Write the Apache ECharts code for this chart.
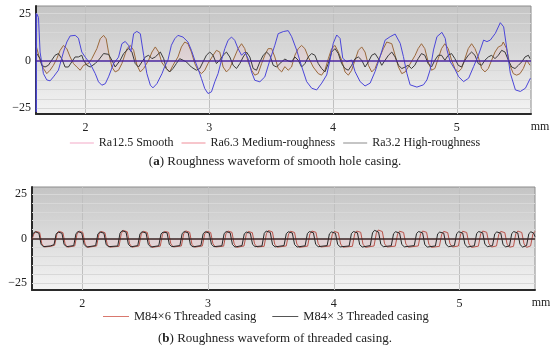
<!DOCTYPE html>
<html><head><meta charset="utf-8">
<script src="https://cdn.jsdelivr.net/npm/echarts@6/dist/echarts.min.js"></script>
<style>html,body{margin:0;padding:0;background:#fff}#c{width:550px;height:348px}</style>
</head><body><div id="c"></div>
<script>
// ---------- data (x in mm, y in um) ----------
const xTicks = [2, 3, 4, 5];
const yTicks = [-25, 0, 25];
const namesTop = ['Ra12.5 Smooth', 'Ra6.3 Medium-roughness', 'Ra3.2 High-roughness'];
const namesBottom = ['M84×6 Threaded casing', 'M84× 3 Threaded casing'];

const ra125 = [[1.600,25],[1.602,-27],[1.605,25],[1.620,23],[1.633,4.7],[1.660,-6.7],[1.687,-10.0],[1.714,-10.5],[1.741,-8.4],[1.781,-4.9],[1.822,4.7],[1.849,10.0],[1.876,13.2],[1.917,13.5],[1.943,12.0],[1.970,4.7],[1.998,2.0],[2.038,-1.4],[2.079,-6.7],[2.105,-11.0],[2.132,-12.8],[2.160,-12.0],[2.186,-8.4],[2.227,-1.4],[2.267,2.0],[2.294,9.1],[2.321,10.3],[2.348,8.2],[2.367,5.0],[2.389,14.4],[2.415,15.6],[2.443,14.4],[2.470,3.0],[2.496,-6.7],[2.524,-12.8],[2.545,-14.2],[2.577,-12.0],[2.618,-6.7],[2.640,-3.0],[2.666,0.4],[2.694,8.3],[2.721,11.7],[2.747,13.5],[2.788,12.6],[2.828,10.0],[2.856,5.6],[2.883,0.4],[2.909,-4.0],[2.937,-9.3],[2.964,-14.6],[2.990,-17.2],[3.018,-16.3],[3.045,-11.0],[3.071,-6.7],[3.099,0.4],[3.126,6.5],[3.152,10.9],[3.180,12.6],[3.206,10.9],[3.233,6.5],[3.261,3.0],[3.287,4.7],[3.314,1.2],[3.342,-5.8],[3.368,-10.2],[3.409,-11.0],[3.449,-8.4],[3.490,0.4],[3.530,8.3],[3.557,14.4],[3.598,15.5],[3.638,16.0],[3.666,12.8],[3.706,5.8],[3.747,-3.0],[3.787,-10.9],[3.828,-14.4],[3.868,-15.3],[3.909,-11.7],[3.949,-7.4],[3.976,0.5],[4.002,9.3],[4.030,13.7],[4.057,11.9],[4.079,1.4],[4.111,-0.4],[4.151,0.5],[4.178,-5.6],[4.219,-10.9],[4.259,-13.2],[4.300,-11.7],[4.340,-5.6],[4.381,2.3],[4.421,11.0],[4.462,12.8],[4.502,14.2],[4.543,9.3],[4.569,2.3],[4.597,-6.5],[4.623,-12.6],[4.678,-13.8],[4.731,-12.6],[4.759,-10.0],[4.785,-4.7],[4.812,5.8],[4.840,12.8],[4.880,15.1],[4.907,11.9],[4.921,5.8],[4.947,-0.4],[4.988,-4.7],[5.015,-8.3],[5.055,-10.9],[5.096,-9.1],[5.136,-3.0],[5.176,3.2],[5.217,11.0],[5.244,10.2],[5.271,11.0],[5.312,14.6],[5.352,20.2],[5.379,18.0],[5.406,5.8],[5.433,-6.5],[5.474,-15.3],[5.514,-16.1],[5.555,-14.4],[5.595,-9.1]];

const ra63 = [[1.601,8.0],[1.633,0.4],[1.660,-4.0],[1.687,-6.7],[1.714,-4.9],[1.741,-2.3],[1.768,1.2],[1.795,5.6],[1.822,8.2],[1.849,6.5],[1.876,2.1],[1.903,-1.4],[1.930,-3.2],[1.957,-4.9],[1.984,-2.3],[2.024,-1.4],[2.051,1.2],[2.092,6.5],[2.119,11.7],[2.146,13.5],[2.167,11.7],[2.186,4.7],[2.213,-3.2],[2.240,-5.8],[2.267,-4.9],[2.294,-1.4],[2.335,6.5],[2.362,8.2],[2.389,5.6],[2.416,-2.3],[2.443,-5.8],[2.470,-4.0],[2.510,0.4],[2.537,4.7],[2.564,7.4],[2.591,4.7],[2.618,-1.0],[2.653,-4.0],[2.680,-5.8],[2.707,-2.3],[2.747,2.1],[2.775,7.4],[2.802,10.0],[2.828,9.1],[2.856,4.7],[2.883,-1.4],[2.909,-4.9],[2.937,-6.7],[2.964,-4.9],[2.990,-1.4],[3.031,3.0],[3.058,5.6],[3.085,4.7],[3.112,-3.2],[3.139,-5.8],[3.166,-4.0],[3.193,0.4],[3.233,6.5],[3.261,9.1],[3.287,6.5],[3.314,-0.5],[3.342,-4.9],[3.368,-7.5],[3.395,-6.7],[3.423,-1.4],[3.449,3.0],[3.476,6.5],[3.504,6.5],[3.530,2.1],[3.557,-4.0],[3.585,-5.8],[3.611,-3.0],[3.638,-4.9],[3.665,-3.2],[3.692,3.0],[3.719,6.5],[3.746,8.2],[3.773,6.5],[3.800,2.1],[3.840,-3.2],[3.881,-6.7],[3.908,-7.5],[3.935,-4.9],[3.962,1.2],[3.989,6.5],[4.016,8.2],[4.043,4.7],[4.070,0.4],[4.097,-5.8],[4.124,-7.5],[4.151,-4.9],[4.178,0.4],[4.205,5.6],[4.232,7.4],[4.259,4.7],[4.286,-2.3],[4.313,-5.8],[4.340,-4.0],[4.367,0.4],[4.407,6.5],[4.434,10.0],[4.475,9.1],[4.502,3.0],[4.529,-3.2],[4.556,-6.7],[4.583,-5.8],[4.610,-3.0],[4.637,0.0],[4.664,3.0],[4.688,6.5],[4.715,9.1],[4.742,6.5],[4.769,-0.5],[4.796,-4.9],[4.823,-4.0],[4.850,1.2],[4.877,6.5],[4.904,9.1],[4.931,6.5],[4.958,0.4],[4.985,-4.0],[5.012,-5.8],[5.039,-4.0],[5.066,1.2],[5.093,6.5],[5.120,9.1],[5.147,6.5],[5.174,2.1],[5.201,-4.0],[5.228,-5.8],[5.255,-4.0],[5.282,0.4],[5.309,4.7],[5.336,7.4],[5.363,8.2],[5.376,10.0],[5.403,6.5],[5.430,-2.3],[5.457,-6.7],[5.484,-7.5],[5.511,-6.7],[5.538,-4.0],[5.565,0.4],[5.592,-2.3]];

const ra32 = [[1.606,3.9],[1.633,1.2],[1.646,-2.3],[1.673,-3.2],[1.700,-2.3],[1.727,0.4],[1.754,3.0],[1.781,3.9],[1.808,1.2],[1.835,-3.2],[1.862,-3.2],[1.889,-0.5],[1.916,2.1],[1.943,2.1],[1.970,3.0],[1.984,0.4],[2.011,-2.3],[2.038,-3.2],[2.078,-1.4],[2.105,0.4],[2.146,3.9],[2.186,3.5],[2.213,0.4],[2.240,-3.2],[2.281,0.4],[2.308,3.9],[2.348,6.5],[2.375,4.7],[2.402,-1.4],[2.429,-3.2],[2.456,-0.5],[2.483,2.1],[2.510,3.0],[2.537,1.2],[2.564,2.1],[2.605,4.7],[2.632,1.2],[2.653,-4.0],[2.680,-5.8],[2.707,-4.0],[2.734,-1.4],[2.761,1.2],[2.788,0.4],[2.815,-0.5],[2.855,-3.2],[2.896,-4.9],[2.923,-4.0],[2.950,-0.5],[2.977,3.0],[3.004,4.7],[3.031,3.0],[3.058,-1.4],[3.085,0.4],[3.112,3.0],[3.139,4.7],[3.166,2.1],[3.193,-2.3],[3.220,-4.0],[3.247,-1.4],[3.274,2.1],[3.301,4.7],[3.328,2.1],[3.355,-4.0],[3.382,-4.9],[3.409,-0.5],[3.436,3.0],[3.463,4.7],[3.490,3.0],[3.517,-2.3],[3.544,-3.2],[3.584,-0.5],[3.611,1.0],[3.638,0.0],[3.665,-0.5],[3.692,2.1],[3.719,0.4],[3.746,-3.2],[3.773,-1.4],[3.800,2.1],[3.827,3.9],[3.854,3.0],[3.881,-1.4],[3.908,-4.0],[3.935,-5.8],[3.962,-1.4],[3.989,4.7],[4.016,6.5],[4.043,3.9],[4.070,-1.4],[4.097,-4.0],[4.124,-4.9],[4.151,-2.3],[4.178,1.2],[4.205,2.1],[4.232,0.4],[4.259,-3.2],[4.286,-0.5],[4.313,3.0],[4.340,3.9],[4.367,1.2],[4.394,-2.3],[4.421,0.4],[4.448,3.0],[4.475,4.7],[4.502,2.1],[4.529,-2.3],[4.556,-4.0],[4.583,-3.2],[4.607,-2.3],[4.634,-4.0],[4.661,-2.3],[4.688,1.2],[4.715,3.9],[4.742,3.0],[4.769,-1.4],[4.796,-3.2],[4.823,0.4],[4.850,3.0],[4.877,3.0],[4.904,0.4],[4.931,3.0],[4.958,3.9],[4.985,1.2],[5.012,-2.3],[5.039,-3.2],[5.066,0.4],[5.093,3.0],[5.120,4.7],[5.147,3.0],[5.174,-1.4],[5.201,-2.3],[5.228,0.4],[5.255,2.1],[5.282,3.0],[5.309,1.2],[5.336,3.0],[5.363,5.6],[5.390,4.7],[5.417,0.4],[5.444,-3.2],[5.471,-4.0],[5.498,-2.3],[5.525,-0.5],[5.552,2.1],[5.579,3.0],[5.592,1.2]];

const m84x6 = [[1.600,-0.5],[1.614,2.4],[1.631,4.0],[1.661,3.4],[1.678,-3.0],[1.698,-4.8],[1.750,-4.4],[1.780,-3.8],[1.798,2.4],[1.814,4.1],[1.846,3.3],[1.863,-3.0],[1.883,-4.9],[1.940,-4.2],[1.958,2.5],[1.974,4.2],[2.004,3.4],[2.022,-3.1],[2.042,-5.0],[2.114,-4.2],[2.132,2.4],[2.148,4.0],[2.180,3.3],[2.198,-3.2],[2.218,-4.9],[2.292,-4.4],[2.310,2.8],[2.326,4.6],[2.358,3.8],[2.376,-3.0],[2.396,-4.9],[2.451,-4.2],[2.469,2.5],[2.485,4.1],[2.517,3.4],[2.535,-3.1],[2.555,-5.0],[2.620,-4.3],[2.638,2.4],[2.654,4.0],[2.686,3.5],[2.704,-3.0],[2.724,-4.8],[2.788,-4.2],[2.806,2.6],[2.822,4.3],[2.854,3.5],[2.872,-3.3],[2.892,-4.9],[2.955,-4.2],[2.973,2.5],[2.989,4.1],[3.021,3.4],[3.039,-3.0],[3.059,-4.8],[3.124,-4.3],[3.142,2.6],[3.158,4.2],[3.190,3.5],[3.208,-3.1],[3.228,-5.0],[3.286,-4.2],[3.304,2.4],[3.320,4.0],[3.352,3.3],[3.370,-3.0],[3.390,-4.8],[3.446,-4.4],[3.464,2.7],[3.480,4.5],[3.512,3.7],[3.530,-3.2],[3.550,-4.9],[3.622,-4.2],[3.640,2.5],[3.656,4.1],[3.688,3.4],[3.706,-3.1],[3.726,-5.0],[3.792,-4.3],[3.810,2.6],[3.826,4.2],[3.858,3.5],[3.876,-3.0],[3.896,-4.8],[3.970,-4.2],[3.988,2.4],[4.004,4.0],[4.036,3.3],[4.054,-3.1],[4.074,-4.9],[4.148,-4.4],[4.166,2.6],[4.182,4.2],[4.214,3.5],[4.232,-3.2],[4.252,-5.0],[4.320,-4.2],[4.338,3.0],[4.354,4.8],[4.386,3.9],[4.404,-3.0],[4.424,-4.8],[4.489,-4.3],[4.507,2.5],[4.523,4.1],[4.555,3.4],[4.573,-3.1],[4.593,-4.9],[4.672,-4.2],[4.690,2.6],[4.706,4.2],[4.738,3.5],[4.756,-3.2],[4.776,-5.0],[4.840,-4.4],[4.858,2.4],[4.874,4.0],[4.906,3.3],[4.924,-3.0],[4.944,-4.8],[4.991,-4.2],[5.009,2.5],[5.025,4.1],[5.057,3.4],[5.075,-3.1],[5.095,-5.0],[5.150,-4.3],[5.168,2.6],[5.184,4.2],[5.216,3.5],[5.234,-3.0],[5.254,-4.8],[5.294,-4.2],[5.312,2.4],[5.328,4.0],[5.360,3.3],[5.378,-3.2],[5.398,-4.9],[5.429,-4.4],[5.447,2.6],[5.463,4.2],[5.495,3.4],[5.513,-3.1],[5.533,-5.0],[5.565,-4.2],[5.583,2.5],[5.600,4.0]];

const m84x3 = [[1.600,0.5],[1.608,2.8],[1.625,3.8],[1.655,3.0],[1.672,-3.2],[1.690,-4.6],[1.745,-4.2],[1.775,-3.5],[1.792,2.6],[1.808,3.6],[1.838,3.0],[1.855,-3.4],[1.875,-4.6],[1.932,-4.0],[1.950,2.8],[1.966,3.9],[1.996,3.1],[2.014,-3.3],[2.034,-4.8],[2.106,-4.0],[2.124,2.6],[2.140,3.7],[2.172,3.0],[2.190,-3.5],[2.210,-4.6],[2.282,-4.2],[2.300,3.0],[2.316,4.4],[2.348,3.6],[2.366,-3.2],[2.386,-4.7],[2.441,-4.0],[2.459,2.7],[2.475,3.8],[2.507,3.1],[2.525,-3.4],[2.545,-4.8],[2.608,-4.1],[2.626,2.6],[2.642,3.6],[2.674,3.2],[2.692,-3.3],[2.712,-4.6],[2.776,-4.0],[2.794,2.8],[2.810,3.9],[2.842,3.2],[2.860,-3.6],[2.880,-4.7],[2.943,-4.0],[2.961,2.7],[2.977,3.8],[3.009,3.1],[3.027,-3.3],[3.047,-4.6],[3.110,-4.1],[3.128,2.8],[3.144,3.9],[3.176,3.2],[3.194,-3.4],[3.214,-4.8],[3.270,-4.0],[3.288,2.6],[3.304,3.6],[3.336,3.0],[3.354,-3.3],[3.374,-4.6],[3.429,-4.2],[3.447,2.9],[3.463,4.2],[3.495,3.4],[3.513,-3.5],[3.533,-4.7],[3.604,-4.0],[3.622,2.7],[3.638,3.8],[3.670,3.1],[3.688,-3.4],[3.708,-4.8],[3.772,-4.1],[3.790,2.8],[3.806,3.9],[3.838,3.2],[3.856,-3.3],[3.876,-4.6],[3.947,-4.0],[3.965,2.6],[3.981,3.7],[4.013,3.0],[4.031,-3.4],[4.051,-4.7],[4.122,-4.2],[4.140,2.8],[4.156,3.9],[4.188,3.2],[4.206,-3.5],[4.226,-4.8],[4.290,-4.0],[4.308,3.2],[4.324,4.6],[4.356,3.6],[4.374,-3.3],[4.394,-4.6],[4.457,-4.1],[4.475,2.7],[4.491,3.8],[4.523,3.1],[4.541,-3.4],[4.561,-4.7],[4.640,-4.0],[4.658,2.8],[4.674,3.9],[4.706,3.2],[4.724,-3.5],[4.744,-4.8],[4.808,-4.2],[4.826,2.6],[4.842,3.6],[4.874,3.0],[4.892,-3.3],[4.912,-4.6],[4.959,-4.0],[4.977,2.7],[4.993,3.8],[5.025,3.1],[5.043,-3.4],[5.063,-4.8],[5.118,-4.1],[5.136,2.8],[5.152,3.9],[5.184,3.2],[5.202,-3.3],[5.222,-4.6],[5.262,-4.0],[5.280,2.6],[5.296,3.7],[5.328,3.0],[5.346,-3.5],[5.366,-4.7],[5.397,-4.2],[5.415,2.8],[5.431,3.9],[5.463,3.1],[5.481,-3.4],[5.501,-4.8],[5.533,-4.0],[5.551,2.7],[5.567,3.8],[5.590,3.0],[5.600,1.0]];

const stripes = [-25,-20,-15,-10,-5,5,10,15,20,25];

// ---------- chart ----------
const F = 'Liberation Serif';
const chart = echarts.init(document.getElementById('c'), null, {renderer: 'canvas'});
const bg = () => new echarts.graphic.LinearGradient(0, 0, 0, 1, [
  {offset: 0, color: '#c4c4c4'}, {offset: 1, color: '#f4f4f4'}]);
const minus = v => String(v).replace('-', '\u2212');

function xAxis(gi) {
  return {gridIndex: gi, type: 'value', min: 1.6, max: 5.6,
    axisLine: {onZero: false, lineStyle: {color: '#2a2a2a', width: 2}},
    axisTick: {show: false}, splitLine: {show: false},
    axisLabel: {customValues: xTicks, fontFamily: F, fontSize: 12, color: '#222', margin: 8}};
}
function yAxis(gi, mn, mx) {
  return {gridIndex: gi, type: 'value', min: mn, max: mx,
    axisLine: {show: true, onZero: false, lineStyle: {color: '#2a2a2a', width: 2}},
    axisTick: {show: false}, splitLine: {show: false},
    axisLabel: {customValues: yTicks, formatter: minus, fontFamily: F, fontSize: 12, color: '#222', margin: 5},
    name: 'um', nameLocation: 'middle', nameGap: 22,
    nameTextStyle: {fontFamily: F, fontSize: 13, color: '#222'}};
}
function gridMarks() {
  return {silent: true, symbol: ['none', 'none'], label: {show: false}, animation: false, z: 1,
    data: xTicks.map(v => ({xAxis: v, lineStyle: {color: '#c0c0c0', width: 1, type: 'solid'}}))
      .concat(stripes.map(v => ({yAxis: v, lineStyle: {color: '#d8d8d8', width: 1, type: 'solid'}})))};
}
function zeroMark(color) {
  return {silent: true, symbol: ['none', 'none'], label: {show: false}, animation: false,
    data: [{yAxis: 0, lineStyle: {color: color, width: 1.6, type: 'solid'}}]};
}
const line = (name, data, gi, color, extra) => Object.assign({
  name, type: 'line', data, xAxisIndex: gi, yAxisIndex: gi, showSymbol: false, symbol: 'none',
  lineStyle: {color, width: 1}, itemStyle: {color}, animation: false}, extra || {});
const legItem = (name, color) => ({name, icon: 'rect', itemStyle: {color}});

chart.setOption({
  animation: false,
  grid: [
    {left: 36, top: 6, width: 495, height: 108, show: true, backgroundColor: bg(), borderColor: '#8c8c8c', borderWidth: 1, outerBoundsMode: 'none', containLabel: false},
    {left: 32, top: 187, width: 503, height: 103, show: true, backgroundColor: bg(), borderColor: '#8c8c8c', borderWidth: 1, outerBoundsMode: 'none', containLabel: false}
  ],
  xAxis: [xAxis(0), xAxis(1)],
  yAxis: [yAxis(0, -28, 29), yAxis(1, -29, 29)],
  legend: [
    {left: 'center', top: 132, itemGap: 8, itemWidth: 24, itemHeight: 1,
     textStyle: {fontFamily: F, fontSize: 12, color: '#222'},
     data: [legItem(namesTop[0], '#f3a8c6'), legItem(namesTop[1], '#ee8c98'), legItem(namesTop[2], '#8a8a8a')]},
    {left: 98, top: 305, itemGap: 16, itemWidth: 26, itemHeight: 1,
     textStyle: {fontFamily: F, fontSize: 12.5, color: '#222'},
     data: [legItem(namesBottom[0], '#d9786e'), legItem(namesBottom[1], '#555555')]}
  ],
  series: [
    line(namesTop[1], ra63, 0, '#9a6a3c', {areaStyle: {color: 'rgba(250,165,175,0.2)'}, markLine: gridMarks(), z: 2}),
    line(namesTop[2], ra32, 0, '#3a3a3a', {z: 3}),
    line(namesTop[0], ra125, 0, '#4b46d8', {z: 4, markLine: zeroMark('#4a26a0')}),
    line(namesBottom[0], m84x6, 1, '#b8554c', {areaStyle: {color: 'rgba(250,165,175,0.25)'}, markLine: gridMarks(), z: 2}),
    line(namesBottom[1], m84x3, 1, '#262626', {z: 3, markLine: zeroMark('#3a2424')})
  ],
  graphic: [
    {type: 'text', x: 540, y: 127, style: {text: 'mm', align: 'center', verticalAlign: 'middle', textAlign: 'center', textVerticalAlign: 'middle', fontFamily: F, fontSize: 12, fill: '#222'}},
    {type: 'text', x: 541, y: 303, style: {text: 'mm', align: 'center', verticalAlign: 'middle', textAlign: 'center', textVerticalAlign: 'middle', fontFamily: F, fontSize: 12, fill: '#222'}},
    {type: 'text', x: 275, y: 162, style: {text: '({b|a}) Roughness waveform of smooth hole casing.', align: 'center', verticalAlign: 'middle', textAlign: 'center', textVerticalAlign: 'middle', fontFamily: F, fontSize: 13, fill: '#222', rich: {b: {fontFamily: F, fontSize: 13, fontWeight: 'bold', fill: '#222'}}}},
    {type: 'text', x: 275, y: 339, style: {text: '({b|b}) Roughness waveform of threaded casing.', align: 'center', verticalAlign: 'middle', textAlign: 'center', textVerticalAlign: 'middle', fontFamily: F, fontSize: 13, fill: '#222', rich: {b: {fontFamily: F, fontSize: 13, fontWeight: 'bold', fill: '#222'}}}}
  ]
});
</script></body></html>
